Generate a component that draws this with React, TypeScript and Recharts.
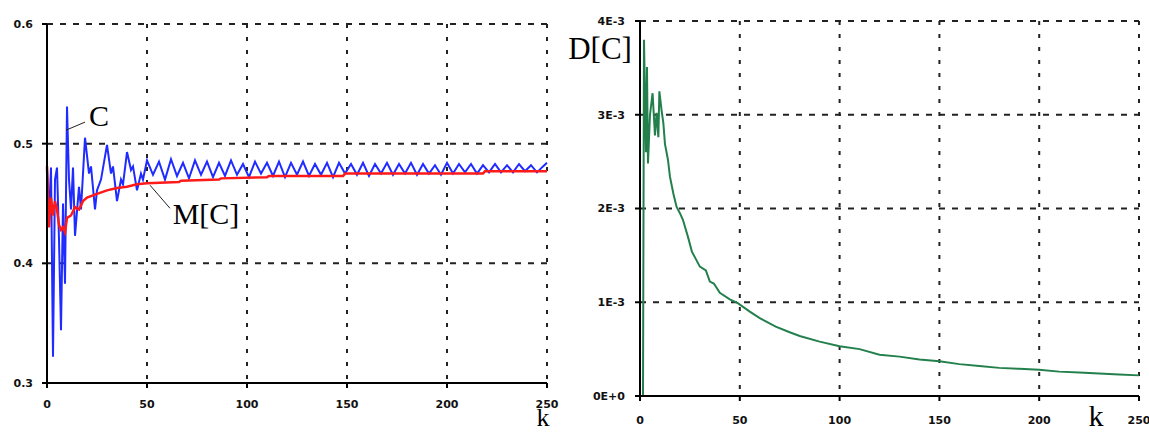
import { CartesianGrid, Line, LineChart, ReferenceDot, ReferenceLine, XAxis, YAxis } from 'recharts';

// k ticks shared by both panels
const kTicks = [0, 50, 100, 150, 200, 250];
const cTicks = [0.3, 0.4, 0.5, 0.6];
const dTicks = [0, 0.001, 0.002, 0.003, 0.004];
const dTickLabels = ['0E+0', '1E-3', '2E-3', '3E-3', '4E-3'];

// C (blue) as [k, value]
const cPoints: [number, number][] = [
  [0, 0.48], [1, 0.44], [2, 0.48], [3, 0.322], [4, 0.47], [5, 0.48], [6, 0.42], [7, 0.344], [8, 0.45], [9, 0.383],
  [10, 0.531], [11, 0.47], [12, 0.445], [13, 0.48], [14, 0.423], [16, 0.464], [17, 0.445], [19, 0.505], [21, 0.475],
  [22, 0.481], [24, 0.445], [25, 0.461], [27, 0.47], [30, 0.499], [32, 0.475], [33, 0.481], [35, 0.452], [37, 0.47],
  [38, 0.466], [40, 0.493], [42, 0.478], [43, 0.481], [45, 0.461], [47, 0.475], [48, 0.47], [50, 0.486], [53, 0.474],
  [56, 0.485], [59, 0.47], [62, 0.487], [65, 0.473], [68, 0.484], [71, 0.471], [74, 0.486], [77, 0.474], [80, 0.485],
  [83, 0.472], [86, 0.484], [89, 0.473], [92, 0.486], [95, 0.474], [98, 0.483], [101, 0.472], [104, 0.485], [107, 0.475],
  [110, 0.484], [113, 0.473], [116, 0.485], [119, 0.472], [122, 0.484], [125, 0.474], [128, 0.485], [131, 0.473],
  [134, 0.483], [137, 0.474], [140, 0.484], [143, 0.472], [146, 0.484], [149, 0.475], [152, 0.483], [155, 0.474],
  [158, 0.484], [161, 0.473], [164, 0.483], [167, 0.475], [170, 0.484], [173, 0.474], [176, 0.483], [179, 0.475],
  [182, 0.484], [185, 0.474], [188, 0.483], [191, 0.475], [194, 0.482], [197, 0.474], [200, 0.484], [203, 0.475],
  [206, 0.483], [209, 0.476], [212, 0.483], [215, 0.475], [218, 0.482], [221, 0.476], [224, 0.483], [227, 0.476],
  [230, 0.482], [233, 0.476], [236, 0.483], [239, 0.477], [242, 0.482], [245, 0.476], [248, 0.481], [250, 0.484],
];

// M[C] (red)
const mPoints: [number, number][] = [
  [0, 0.481], [1, 0.43], [2, 0.455], [3, 0.44], [4, 0.452], [5, 0.445], [6, 0.432], [7, 0.428], [8, 0.43], [9, 0.426],
  [10, 0.438], [12, 0.44], [14, 0.447], [16, 0.445], [18, 0.452], [20, 0.455], [25, 0.458], [30, 0.461], [35, 0.463],
  [40, 0.464], [45, 0.466], [50, 0.467], [66, 0.468], [67, 0.469], [86, 0.47], [87, 0.471], [110, 0.472], [111, 0.473],
  [148, 0.473], [149, 0.475], [218, 0.475], [219, 0.477], [250, 0.477],
];

// D[C] (green)
const dPoints: [number, number][] = [
  [0, 0], [1.5, 0], [2, 0.0038], [3, 0.0026], [3.5, 0.00351], [4, 0.00248], [5, 0.003], [6.3, 0.00323], [7.5, 0.00278],
  [8.3, 0.00302], [9.2, 0.00276], [9.7, 0.00325], [10.8, 0.00305], [11.7, 0.00291], [12.5, 0.00269], [14, 0.00252],
  [15, 0.00234], [16.7, 0.00216], [18.3, 0.00202], [20, 0.00195], [21.5, 0.00188], [24, 0.0017], [26, 0.00154],
  [28, 0.00146], [30, 0.00138], [33, 0.00134], [35, 0.00122], [37, 0.0012], [40, 0.0011], [45, 0.00103], [49, 0.00099],
  [55, 0.0009], [60, 0.00083], [68, 0.00074], [75, 0.00068], [80, 0.00064], [90, 0.00058], [100, 0.00053], [110, 0.0005],
  [120, 0.00044], [130, 0.00042], [140, 0.00039], [150, 0.00037], [160, 0.00034], [170, 0.00032], [180, 0.0003],
  [190, 0.00029], [200, 0.00028], [210, 0.00026], [220, 0.00025], [230, 0.00024], [240, 0.00023], [250, 0.00022],
];

const toRows = (pts: [number, number][]) => pts.map(([k, v]) => ({ k, v }));

const tickStyle = { fontFamily: 'DejaVu Sans', fontSize: 11, fontWeight: 'bold', fill: '#111' };
const serif = { fontFamily: 'Liberation Serif', fill: '#000' };

function textAt(value: string, size = 30) {
  return (p: any) => (
    <text x={p.cx} y={p.cy} textAnchor="middle" dominantBaseline="central" {...serif} fontSize={size}>
      {value}
    </text>
  );
}

export default function App() {
  const axisLine = { stroke: '#000', strokeWidth: 2 };
  const tickLine = { stroke: '#000', strokeWidth: 2 };
  return (
    <div style={{ position: 'absolute', left: 0, top: 0, width: 1149, height: 432, background: '#fff' }}>
      <div style={{ position: 'absolute', left: 0, top: 0 }}>
        <LineChart width={580} height={432} margin={{ top: 24, right: 33, bottom: 19, left: 7 }}>
          <CartesianGrid vertical={false} stroke="#222" strokeWidth={2} strokeDasharray="6 7" />
          <CartesianGrid horizontal={false} stroke="#222" strokeWidth={2} strokeDasharray="4 9" />
          <XAxis type="number" dataKey="k" domain={[0, 250]} ticks={kTicks} height={30} axisLine={axisLine}
            tickLine={tickLine} tickSize={5} tickMargin={12} tick={tickStyle} />
          <YAxis type="number" dataKey="v" domain={[0.3, 0.6]} ticks={cTicks} width={40} axisLine={axisLine}
            tickLine={tickLine} tickSize={5} tickMargin={9} tick={tickStyle} tickFormatter={(v: number) => v.toFixed(1)} />
          <Line data={toRows(cPoints)} dataKey="v" type="linear" stroke="#1f2bff" strokeWidth={2} dot={false} isAnimationActive={false} />
          <Line data={toRows(mPoints)} dataKey="v" type="linear" stroke="#ff1a1a" strokeWidth={2.5} dot={false} isAnimationActive={false} />
          <ReferenceLine segment={[{ x: 9.5, y: 0.5113 }, { x: 19, y: 0.518 }]} stroke="#222" strokeWidth={1} />
          <ReferenceLine segment={[{ x: 51.5, y: 0.4653 }, { x: 61.5, y: 0.446 }]} stroke="#222" strokeWidth={1} />
          <ReferenceDot x={26} y={0.5238} r={0} ifOverflow="visible" shape={textAt('C')} />
          <ReferenceDot x={79.5} y={0.4418} r={0} ifOverflow="visible" shape={textAt('M[C]')} />
          <ReferenceDot x={248} y={0.2712} r={0} ifOverflow="visible" shape={textAt('k', 26)} />
        </LineChart>
      </div>
      <div style={{ position: 'absolute', left: 545, top: 0 }}>
        <LineChart width={604} height={432} margin={{ top: 21, right: 10, bottom: 6, left: 45 }}>
          <CartesianGrid vertical={false} stroke="#222" strokeWidth={2} strokeDasharray="6 7" />
          <CartesianGrid horizontal={false} stroke="#222" strokeWidth={2} strokeDasharray="4 9" />
          <XAxis type="number" dataKey="k" domain={[0, 250]} ticks={kTicks} height={30} axisLine={axisLine}
            tickLine={tickLine} tickSize={5} tickMargin={15} tick={tickStyle} />
          <YAxis type="number" dataKey="v" domain={[0, 0.004]} ticks={dTicks} width={50} axisLine={axisLine}
            tickLine={tickLine} tickSize={5} tickMargin={10} tick={tickStyle}
            tickFormatter={(v: number) => dTickLabels[dTicks.indexOf(v)] ?? String(v)} />
          <Line data={toRows(dPoints)} dataKey="v" type="linear" stroke="#23804c" strokeWidth={2} dot={false} isAnimationActive={false} />
          <ReferenceDot x={-20} y={0.00371} r={0} ifOverflow="visible" shape={textAt('D[C]', 31)} />
          <ReferenceDot x={228.5} y={-0.00021} r={0} ifOverflow="visible" shape={textAt('k', 30)} />
        </LineChart>
      </div>
    </div>
  );
}
